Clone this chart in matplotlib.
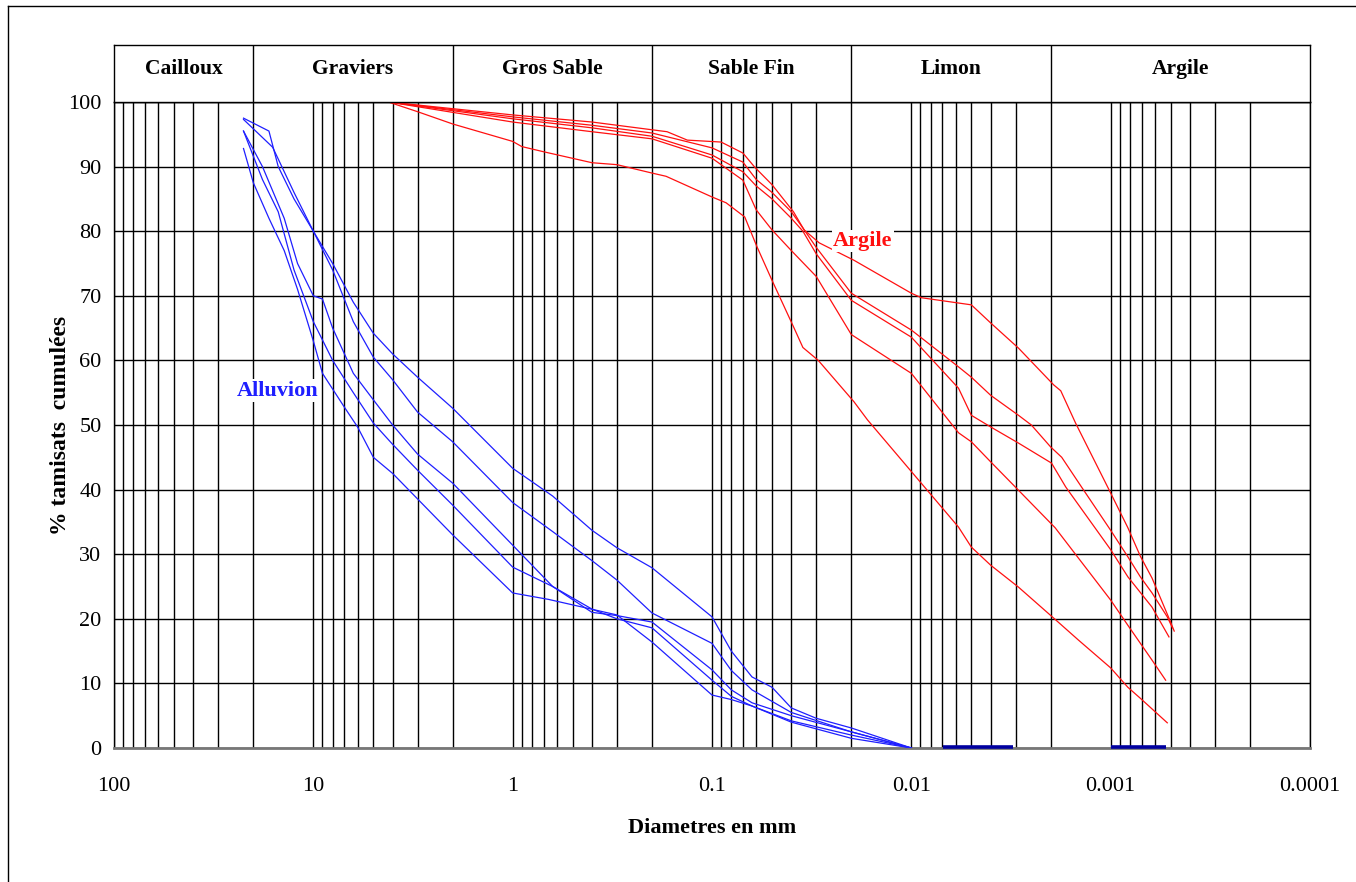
import numpy as np
import matplotlib
matplotlib.use("Agg")
import matplotlib.pyplot as plt
from matplotlib.ticker import LogLocator, NullFormatter, FixedLocator, FixedFormatter
from matplotlib.lines import Line2D

plt.rcParams['font.family'] = ['Liberation Serif', 'DejaVu Serif']

# header bands (diameters in mm)
band_names = ["Cailloux", "Graviers", "Gros Sable", "Sable Fin", "Limon", "Argile"]
band_bounds = [100, 20, 2, 0.2, 0.02, 0.002, 0.0001]

xtick_vals = [100, 10, 1, 0.1, 0.01, 0.001, 0.0001]
xtick_labels = ["100", "10", "1", "0.1", "0.01", "0.001", "0.0001"]
ytick_vals = [0, 10, 20, 30, 40, 50, 60, 70, 80, 90, 100]

# Alluvion curves (blue)
b1_d = [22.4, 16.7, 15, 12.5, 10, 8, 6.3, 5, 4, 3, 2, 1, 0.63, 0.4, 0.3, 0.2, 0.1, 0.08, 0.063, 0.05, 0.04, 0.03, 0.02, 0.01]
b1_v = [97.5, 95.5, 90, 85, 80, 75, 69, 64.2, 61, 57.4, 52.6, 43.3, 39, 33.7, 31, 27.9, 20.3, 15, 11, 9.4, 6.2, 4.6, 3.1, 0]
b2_d = [22.4, 16, 12.5, 10, 8, 6.3, 5, 4, 3, 2, 1, 0.63, 0.4, 0.3, 0.2, 0.1, 0.08, 0.063, 0.04, 0.02, 0.01]
b2_v = [97.3, 93, 86, 80, 74, 66, 60.5, 57, 52, 47.4, 38, 33.5, 29, 26, 20.9, 16.2, 12, 9, 5.5, 2.5, 0]
b3_d = [22.4, 18, 14, 12, 10, 9, 8, 6.3, 5, 4, 3, 2, 1, 0.63, 0.4, 0.3, 0.2, 0.1, 0.08, 0.063, 0.04, 0.02, 0.01]
b3_v = [95.5, 90, 82, 75, 70, 69.5, 65, 58, 53.9, 50, 45.5, 41, 31.4, 25, 21, 20.5, 19.5, 12.1, 9, 7, 5, 2.5, 0]
b4_d = [22.4, 18, 15, 12.5, 10, 8, 6.3, 5, 4, 3, 2, 1, 0.63, 0.4, 0.3, 0.2, 0.1, 0.08, 0.063, 0.04, 0.02, 0.01]
b4_v = [95.5, 88, 83, 74, 66, 60, 55, 50.3, 47, 43, 37.6, 28, 25, 21.5, 20, 18.6, 10.5, 8, 6.5, 4.2, 2, 0]
b5_d = [22.4, 20, 16.7, 14, 12, 10, 9, 7, 6, 5, 4, 2, 1, 0.66, 0.3, 0.2, 0.1, 0.08, 0.063, 0.04, 0.02, 0.01]
b5_v = [92.8, 87.5, 82, 77, 71, 63, 58, 52.8, 49.7, 45, 42.5, 33, 24, 23, 20.6, 16.4, 8.2, 7.5, 6.5, 4, 1.5, 0]

# segments lying on 0 %
zero1_d = [0.0069, 0.0031]
zero2_d = [0.001, 0.00053]

# Argile curves (red)
r1_d = [4.2, 1, 0.4, 0.2, 0.168, 0.133, 0.09, 0.07, 0.061, 0.05, 0.039, 0.0345, 0.029, 0.0194, 0.01, 0.0089, 0.005, 0.004, 0.0029, 0.00193, 0.00178, 0.0015, 0.00102, 0.00082, 0.00071, 0.00062, 0.00051, 0.00048]
r1_v = [100, 98, 96.9, 95.7, 95.4, 94.1, 93.8, 92.1, 89.9, 87.2, 83, 80.2, 78.2, 75.5, 70.4, 69.7, 68.6, 65.8, 61.9, 56.2, 55.3, 50.3, 40, 34.1, 29.7, 26.3, 20.1, 18.1]
r2_d = [4.2, 1, 0.4, 0.2, 0.1, 0.07, 0.06, 0.05, 0.04, 0.035, 0.03, 0.02, 0.01, 0.0058, 0.005, 0.004, 0.0029, 0.0025, 0.002, 0.00176, 0.0014, 0.001, 0.00082, 0.00071, 0.00062, 0.00052, 0.00049]
r2_v = [100, 97.7, 96.4, 95.2, 92.9, 90.7, 88, 86, 83, 80.5, 77.5, 70.4, 64.7, 59, 57.4, 54.6, 51.5, 50, 46.6, 45, 40.4, 33.7, 29.6, 26.5, 24, 20.3, 18.6]
r3_d = [4.2, 1, 0.4, 0.2, 0.1, 0.07, 0.06, 0.05, 0.04, 0.035, 0.03, 0.02, 0.01, 0.0058, 0.005, 0.004, 0.0029, 0.00198, 0.00168, 0.001, 0.00082, 0.00062, 0.00051]
r3_v = [100, 97.4, 96, 94.7, 91.8, 89.2, 87, 85, 82, 80, 76.5, 69.3, 63.6, 55.7, 51.5, 49.7, 47.2, 44.1, 40.4, 30.7, 26.5, 21.8, 17.2]
r4_d = [4.2, 1, 0.4, 0.2, 0.1, 0.07, 0.06, 0.05, 0.04, 0.03, 0.02, 0.01, 0.0058, 0.005, 0.004, 0.0029, 0.0019, 0.001, 0.00082, 0.00062, 0.00053]
r4_v = [100, 96.9, 95.4, 94.3, 91.3, 87.9, 83.3, 80.2, 77, 73, 64, 58, 48.8, 47.4, 44.3, 39.9, 34.1, 22.9, 19, 13.6, 10.5]
r5_d = [4.2, 3, 2, 1, 0.9, 0.7, 0.4, 0.3, 0.2, 0.17, 0.1, 0.085, 0.0685, 0.0595, 0.05, 0.039, 0.035, 0.0293, 0.0194, 0.0166, 0.0058, 0.005, 0.004, 0.0029, 0.00193, 0.00145, 0.001, 0.00082, 0.00071, 0.00052]
r5_v = [100, 98.5, 96.6, 93.9, 93.1, 92.3, 90.6, 90.3, 89, 88.5, 85.3, 84.4, 82.2, 77.6, 72.4, 65.2, 62, 60, 53.6, 50.8, 34.2, 31.1, 28.3, 24.9, 20.1, 16.7, 12.4, 9.4, 7.7, 3.9]

blue_curves = [(b1_d, b1_v), (b2_d, b2_v), (b3_d, b3_v), (b4_d, b4_v), (b5_d, b5_v)]
red_curves = [(r1_d, r1_v), (r2_d, r2_v), (r3_d, r3_v), (r4_d, r4_v), (r5_d, r5_v)]

W, H = 1356, 882
fig = plt.figure(figsize=(W / 100, H / 100), dpi=100)

L, R, T, B, HT = 114, 1310, 102, 748, 45
ax = fig.add_axes([L / W, 1 - B / H, (R - L) / W, (B - T) / H])
hd = fig.add_axes([L / W, 1 - T / H, (R - L) / W, (T - HT) / H], sharex=ax)

ax.set_xscale('log')
ax.set_xlim(100, 0.0001)
ax.set_ylim(0, 100)

# grid: log minors + every 10 %
ax.xaxis.set_major_locator(FixedLocator(xtick_vals))
ax.xaxis.set_major_formatter(FixedFormatter(xtick_labels))
ax.xaxis.set_minor_locator(LogLocator(base=10, subs=np.arange(2, 10), numticks=50))
ax.xaxis.set_minor_formatter(NullFormatter())
ax.set_yticks(ytick_vals)
ax.grid(which='both', axis='x', color='black', lw=1.0)
ax.grid(which='major', axis='y', color='black', lw=1.0)
ax.set_axisbelow(True)
ax.tick_params(which='both', length=0)
ax.tick_params(axis='x', pad=21, labelsize=16)
ax.tick_params(axis='y', pad=9, labelsize=16)

for d, v in blue_curves:
    ax.plot(d, v, color='#1f1fff', lw=0.9, zorder=3)
for d, v in red_curves:
    ax.plot(d, v, color='#ff1010', lw=0.9, zorder=3)
for d in (zero1_d, zero2_d):
    ax.plot(d, [0.2, 0.2], color='#0000a0', lw=2.6, zorder=4,
            solid_capstyle='butt', clip_on=False)

for s in ('left', 'right', 'top'):
    ax.spines[s].set_color('black')
    ax.spines[s].set_linewidth(1.0)
ax.spines['bottom'].set_color('#777777')
ax.spines['bottom'].set_linewidth(2.0)

ax.text(15.1, 55.3, "Alluvion", color='#1f1fff', fontsize=16, fontweight='bold',
        ha='center', va='center', zorder=5,
        bbox=dict(facecolor='white', edgecolor='none', pad=1))
ax.text(0.0175, 78.5, "Argile", color='#ff1010', fontsize=16, fontweight='bold',
        ha='center', va='center', zorder=5,
        bbox=dict(facecolor='white', edgecolor='none', pad=1))

ax.set_xlabel("Diametres en mm", fontsize=16, fontweight='bold')
ax.set_ylabel("% tamisats  cumulées", fontsize=17, fontweight='bold')
ax.xaxis.set_label_coords(0.5, -0.108)
ax.yaxis.set_label_coords(-0.036, 0.5)

# header with soil classes
hd.set_ylim(0, 1)
hd.tick_params(which='both', length=0, labelbottom=False, labelleft=False)
hd.grid(False)
for s in hd.spines.values():
    s.set_color('black')
    s.set_linewidth(1.0)
for b in band_bounds[1:-1]:
    hd.axvline(b, color='black', lw=1.0)
for i, name in enumerate(band_names):
    xc = np.sqrt(band_bounds[i] * band_bounds[i + 1])
    hd.text(xc, 0.58, name, ha='center', va='center', fontsize=15.5, fontweight='bold')

# outer frame (top and left edges)
fig.add_artist(Line2D([8 / W, 1], [1 - 6 / H, 1 - 6 / H], color='black', lw=1.0))
fig.add_artist(Line2D([8 / W, 8 / W], [0, 1 - 6 / H], color='black', lw=1.0))

fig.savefig("out.png", dpi=100)
